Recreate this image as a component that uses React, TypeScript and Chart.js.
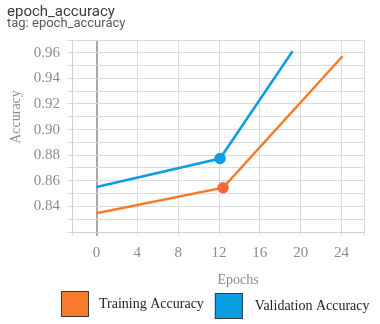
import React, { useEffect, useRef } from "react";
import { Chart, registerables } from "chart.js";

Chart.register(...registerables);

const TITLE = "epoch_accuracy";
const SUBTITLE = "tag: epoch_accuracy";
const X_TITLE = "Epochs";
const Y_TITLE = "Accuracy";

const seriesLabels = ["Training Accuracy", "Validation Accuracy"];
const trainingEpochs = [0, 12.4, 24.1];
const trainingAcc = [0.8346, 0.8546, 0.9573];
const validationEpochs = [0, 12.1, 19.2];
const validationAcc = [0.8551, 0.8774, 0.9612];

const xGrid = [-2.4, 0, 4, 8, 12, 16, 20, 24, 26.2];
const xLabels = [0, 4, 8, 12, 16, 20, 24];
const yGrid = [0.82, 0.83, 0.84, 0.85, 0.86, 0.87, 0.88, 0.89, 0.9, 0.91, 0.92, 0.93, 0.94, 0.95, 0.96, 0.97];
const yLabels = ["0.84", "0.86", "0.88", "0.90", "0.92", "0.94", "0.96"];

const ORANGE = "#f77b2a";
const ORANGE_DOT = "#f56a3a";
const BLUE = "#0a9fe2";
const SERIF = '"Liberation Serif", "Times New Roman", serif';
const SANS = 'Roboto, "Noto Sans", sans-serif';

const decorPlugin = {
  id: "decor",
  afterDraw(chart: any) {
    const ctx = chart.ctx as CanvasRenderingContext2D;
    ctx.save();
    ctx.textAlign = "left";
    ctx.textBaseline = "alphabetic";
    ctx.fillStyle = "#3c3c3c";
    ctx.font = `15px ${SANS}`;
    ctx.fillText(TITLE, 7, 16);
    ctx.fillStyle = "#5a5a5a";
    ctx.font = `13px ${SANS}`;
    ctx.fillText(SUBTITLE, 7, 27);

    // axis titles
    ctx.fillStyle = "#8c8c8c";
    ctx.font = `14px ${SERIF}`;
    ctx.textAlign = "center";
    ctx.textBaseline = "middle";
    ctx.fillText(X_TITLE, 238, 280);
    ctx.save();
    ctx.translate(16, 117);
    ctx.rotate(-Math.PI / 2);
    ctx.fillText(Y_TITLE, 0, 0);
    ctx.restore();

    // legend
    ctx.font = `14px ${SERIF}`;
    ctx.textAlign = "left";
    ctx.textBaseline = "middle";
    let x = 61;
    chart.data.datasets.forEach((ds: any, i: number) => {
      const y = 291 + i * 2;
      ctx.fillStyle = ds.borderColor;
      ctx.fillRect(x, y, 28, 26);
      ctx.strokeStyle = "#3a3a3a";
      ctx.lineWidth = 1;
      ctx.strokeRect(x + 0.5, y + 0.5, 27, 25);
      const tx = x + 28 + 10 + i * 2;
      ctx.fillStyle = "#222";
      ctx.fillText(ds.label, tx, y + 13);
      x = tx + ctx.measureText(ds.label).width + 11;
    });
    ctx.restore();
  },
};

export default function App() {
  const ref = useRef<HTMLCanvasElement | null>(null);
  useEffect(() => {
    if (!ref.current) return;
    const tickFont = { family: SERIF, size: 15 };
    const chart = new Chart(ref.current, {
      type: "line",
      data: {
        datasets: [
          {
            label: seriesLabels[0],
            data: trainingEpochs.map((x, i) => ({ x, y: trainingAcc[i] })),
            borderColor: ORANGE,
            backgroundColor: ORANGE,
            pointBackgroundColor: ORANGE_DOT,
            pointBorderColor: ORANGE_DOT,
            pointRadius: [0, 4.5, 0],
            borderWidth: 2.5,
            tension: 0,
          },
          {
            label: seriesLabels[1],
            data: validationEpochs.map((x, i) => ({ x, y: validationAcc[i] })),
            borderColor: BLUE,
            backgroundColor: BLUE,
            pointBackgroundColor: BLUE,
            pointBorderColor: BLUE,
            pointRadius: [0, 4.5, 0],
            borderWidth: 2.5,
            tension: 0,
          },
        ],
      },
      options: {
        responsive: false,
        animation: false,
        layout: { padding: { top: 40, right: 16, bottom: 52, left: 0 } },
        plugins: { legend: { display: false }, tooltip: { enabled: false } },
        scales: {
          x: {
            type: "linear",
            min: xGrid[0],
            max: xGrid[xGrid.length - 1],
            afterBuildTicks: (s: any) => {
              s.ticks = xGrid.map((v) => ({ value: v }));
            },
            afterFit: (s: any) => {
              s.height = 40;
            },
            ticks: {
              autoSkip: false,
              maxRotation: 0,
              padding: 8,
              font: tickFont,
              color: "#8c8c8c",
              callback: (v: any) => (xLabels.includes(Number(v)) ? String(v) : ""),
            },
            grid: {
              color: (c: any) => (c.tick && c.tick.value === 0 ? "#a8a8a8" : "#dcdcdc"),
              lineWidth: (c: any) => (c.tick && c.tick.value === 0 ? 2 : 1),
              tickLength: 4,
            },
            border: { color: "#d0d0d0" },
          },
          y: {
            type: "linear",
            min: yGrid[0],
            max: yGrid[yGrid.length - 1],
            afterBuildTicks: (s: any) => {
              s.ticks = yGrid.map((v) => ({ value: v }));
            },
            afterFit: (s: any) => {
              s.width = 72;
            },
            ticks: {
              autoSkip: false,
              padding: 7,
              font: tickFont,
              color: "#8c8c8c",
              callback: (v: any) => {
                const s = Number(v).toFixed(2);
                return yLabels.includes(s) ? s : "";
              },
            },
            grid: { color: "#dcdcdc", tickLength: 5 },
            border: { color: "#d0d0d0" },
          },
        },
      },
      plugins: [decorPlugin],
    } as any);
    return () => chart.destroy();
  }, []);
  return (
    <div style={{ position: "absolute", left: 0, top: 0, width: 380, height: 324 }}>
      <canvas ref={ref} width={380} height={324} />
    </div>
  );
}
